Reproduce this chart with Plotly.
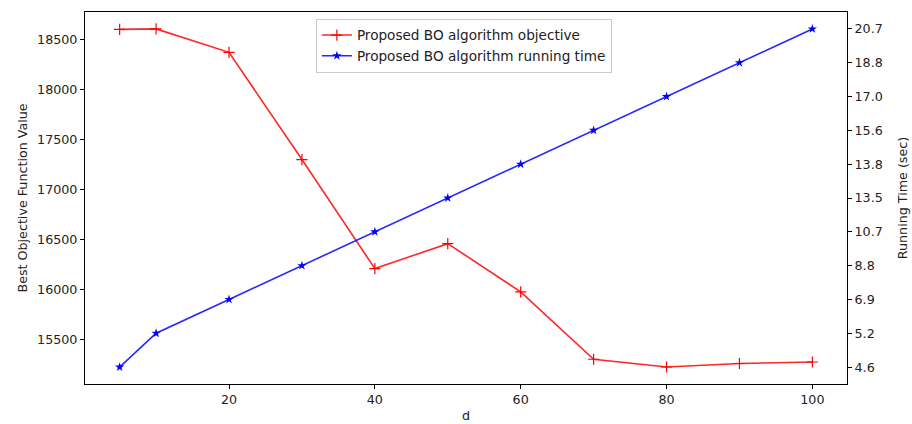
import plotly.graph_objects as go

# Data
d_values = [5, 10, 20, 30, 40, 50, 60, 70, 80, 90, 100]
objective = [18600, 18605, 18370, 17297, 16205, 16455, 15972, 15298, 15220, 15255, 15270]
running_time_labels = ["4.6", "5.2", "6.9", "8.8", "10.7", "13.5", "13.8", "15.6", "17.0", "18.8", "20.7"]
running_time_pos = list(range(len(running_time_labels)))
x_ticks = [20, 40, 60, 80, 100]
y_ticks = [15500, 16000, 16500, 17000, 17500, 18000, 18500]

FONT = "DejaVu Sans"
FS = 12.7
TXT = "#222222"

fig = go.Figure()
fig.add_trace(go.Scatter(
    x=d_values, y=objective, mode="lines+markers",
    name="Proposed BO algorithm objective",
    line=dict(color="rgba(255,0,0,0.85)", width=1.6),
    marker=dict(symbol="cross-thin", size=8, line=dict(color="red", width=1.2), color="red"),
    yaxis="y",
))
fig.add_trace(go.Scatter(
    x=d_values, y=running_time_pos, mode="lines+markers",
    name="Proposed BO algorithm running time",
    line=dict(color="rgba(0,0,255,0.85)", width=1.6),
    marker=dict(symbol="star", size=7, color="blue"),
    yaxis="y2",
))

axis_common = dict(
    showline=True, linecolor="black", linewidth=1,
    ticks="outside", ticklen=4, tickwidth=1, tickcolor="black",
    showgrid=False, zeroline=False, automargin=False,
    tickfont=dict(family=FONT, size=FS, color=TXT),
)

fig.update_layout(
    width=912, height=424,
    margin=dict(l=85, r=65, t=12, b=40),
    paper_bgcolor="white", plot_bgcolor="white",
    font=dict(family=FONT, size=FS, color=TXT),
    showlegend=True,
    legend=dict(
        x=0.303, y=0.982, xanchor="left", yanchor="top",
        bgcolor="rgba(255,255,255,0.8)", bordercolor="#cccccc", borderwidth=1,
        font=dict(family=FONT, size=13.6, color=TXT),
        itemwidth=30,
    ),
    xaxis=dict(
        axis_common, range=[0.25, 104.75], tickvals=x_ticks, mirror=True,
        title=dict(text="d", font=dict(family=FONT, size=FS, color=TXT), standoff=4),
    ),
    yaxis=dict(
        axis_common, range=[15050, 18774], tickvals=y_ticks,
        ticktext=[str(v) for v in y_ticks],
        title=dict(text="Best Objective Function Value", font=dict(family=FONT, size=FS, color=TXT), standoff=6),
    ),
    yaxis2=dict(
        axis_common, overlaying="y", side="right", range=[-0.5, 10.5],
        tickvals=running_time_pos, ticktext=running_time_labels,
        title=dict(text="Running Time (sec)", font=dict(family=FONT, size=FS, color=TXT), standoff=16),
    ),
)

fig.write_html(
    "out.html",
    config={"displayModeBar": False},
    post_script="document.body.style.margin='0';document.body.style.overflow='hidden';",
)
